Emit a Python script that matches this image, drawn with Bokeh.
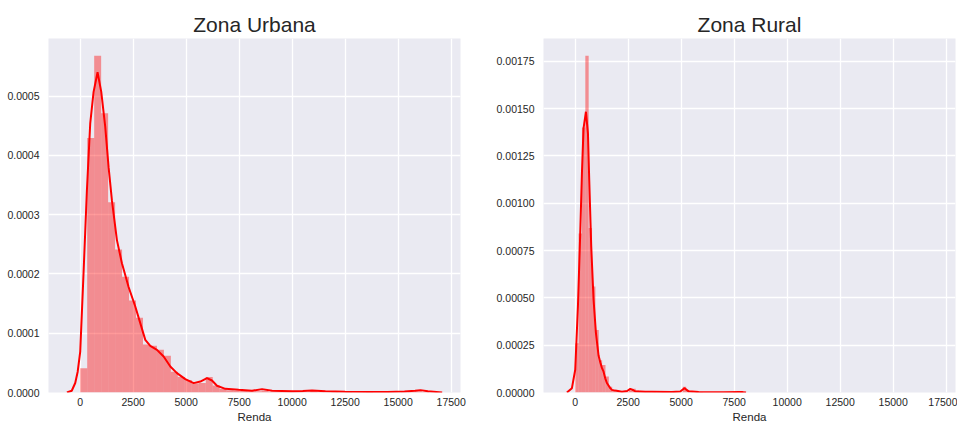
from bokeh.plotting import figure
from bokeh.layouts import row
from bokeh.models import FixedTicker, Range1d
from bokeh.embed import file_html
from bokeh.resources import INLINE

# ---------------- data ----------------
x_ticks = [0, 2500, 5000, 7500, 10000, 12500, 15000, 17500]
x_tick_labels = ["0", "2500", "5000", "7500", "10000", "12500", "15000", "17500"]

urban_y_ticks = [0.0, 0.0001, 0.0002, 0.0003, 0.0004, 0.0005]
urban_y_labels = ["0.0000", "0.0001", "0.0002", "0.0003", "0.0004", "0.0005"]
rural_y_ticks = [0.0, 0.00025, 0.0005, 0.00075, 0.001, 0.00125, 0.0015, 0.00175]
rural_y_labels = ["0.00000", "0.00025", "0.00050", "0.00075", "0.00100",
                  "0.00125", "0.00150", "0.00175"]

# histogram: 50 bins between lo and hi, densities (x 1e-4)
urban_bin_lo, urban_bin_hi = 0, 16450
urban_hist = [0.41, 4.29, 5.68, 4.71, 3.21, 2.41, 1.95, 1.55, 1.26, 0.81,
              0.79, 0.72, 0.62, 0.35, 0.26, 0.21, 0.15, 0.16, 0.26, 0.12,
              0.06, 0.04, 0.03, 0.03, 0.02, 0.02, 0.03, 0.01, 0.01, 0.02,
              0.01, 0.01, 0.005, 0.02, 0.005, 0.0, 0.005, 0.0, 0.005, 0.0,
              0.0, 0.005, 0.0, 0.0, 0.0, 0.0, 0.005, 0.01, 0.02, 0.01]

rural_bin_lo, rural_bin_hi = 0, 7930
rural_hist = [2.6, 8.4, 14.0, 17.8, 8.7, 5.6, 3.3, 1.7, 1.45, 0.85,
              0.3, 0.12, 0.05, 0.03, 0.02, 0.02, 0.1, 0.2, 0.1, 0.03,
              0.02, 0.03, 0.05, 0.02, 0.01, 0.01, 0.01, 0.01, 0.01, 0.01,
              0.01, 0.01, 0.3, 0.1, 0.01, 0.0, 0.0, 0.01, 0.0, 0.0,
              0.0, 0.0, 0.0, 0.0, 0.0, 0.0, 0.0, 0.01, 0.0, 0.05]

# KDE curves (x, density x 1e-4)
urban_kde_x = [-628, -400, -236, -120, 0, 156, 315, 472, 630, 818, 992, 1180,
               1338, 1495, 1731, 1967, 2282, 2597, 2833, 3069, 3305, 3620, 3935,
               4250, 4564, 4958, 5351, 5666, 5980, 6216, 6452, 6845, 7475, 8105,
               8577, 9050, 9522, 9994, 10500, 10938, 11567, 12500, 13500, 14500,
               15300, 15800, 16050, 16400, 17077]
urban_kde_y = [0.0, 0.03, 0.16, 0.35, 0.69, 2.01, 3.41, 4.54, 5.07, 5.40, 5.07, 4.48,
               3.80, 3.24, 2.57, 2.18, 1.78, 1.45, 1.17, 0.887, 0.786, 0.719, 0.606,
               0.438, 0.327, 0.226, 0.158, 0.185, 0.242, 0.202, 0.113, 0.062, 0.045, 0.03,
               0.057, 0.03, 0.025, 0.02, 0.025, 0.035, 0.02, 0.012, 0.01, 0.01,
               0.015, 0.03, 0.04, 0.02, 0.0]

rural_kde_x = [-392, -156, 0, 127, 236, 316, 392, 505, 600, 661, 755, 865, 977,
               1101, 1180, 1259, 1337, 1416, 1494, 1652, 1730, 1888, 2205, 2450,
               2597, 2750, 2833, 3305, 3620, 4564, 4958, 5147, 5351, 5824, 7000,
               7750, 7900, 8059]
rural_kde_y = [0.0, 0.23, 1.2, 4.54, 8.42, 11.59, 13.96, 14.84, 13.7, 11.23, 7.71,
               4.9, 3.14, 1.95, 1.6, 1.3, 1.1, 0.75, 0.5, 0.23, 0.14, 0.1, 0.04,
               0.08, 0.195, 0.12, 0.06, 0.04, 0.035, 0.02, 0.05, 0.23, 0.06, 0.02,
               0.015, 0.03, 0.02, 0.0]

x_range_lo, x_range_hi = -1497, 17941
urban_y_max = 0.000597
rural_y_max = 0.001871

# ---------------- styling ----------------
FONT = "Liberation Sans"
TXT = "#262626"
BG = "#EAEAF2"
SCALE = 1e-4


def make_panel(title, hist, lo, hi, kde_x, kde_y, y_max, y_ticks, y_labels,
               width, border_left, border_right):
    p = figure(width=width, height=425, output_backend="svg", toolbar_location=None,
               x_range=Range1d(x_range_lo, x_range_hi), y_range=Range1d(0, y_max),
               min_border_left=border_left, min_border_right=border_right,
               min_border_top=38, min_border_bottom=0)
    p.background_fill_color = BG
    p.border_fill_color = "white"
    p.outline_line_color = None

    n = len(hist)
    w = (hi - lo) / n
    lefts = [lo + i * w for i in range(n)]
    rights = [lo + (i + 1) * w for i in range(n)]
    tops = [h * SCALE for h in hist]
    p.quad(left=lefts, right=rights, bottom=0, top=tops,
           fill_color="red", fill_alpha=0.4, line_color=None)
    p.line([x for x in kde_x], [y * SCALE for y in kde_y],
           line_color="red", line_width=2)

    p.title.text = title
    p.title.align = "center"
    p.title.text_font = FONT
    p.title.text_font_size = "21px"
    p.title.text_font_style = "normal"
    p.title.text_color = TXT
    p.title.standoff = 6

    p.xaxis.ticker = FixedTicker(ticks=x_ticks)
    p.xaxis.major_label_overrides = {t: l for t, l in zip(x_ticks, x_tick_labels)}
    p.yaxis.ticker = FixedTicker(ticks=y_ticks)
    p.yaxis.major_label_overrides = {t: l for t, l in zip(y_ticks, y_labels)}
    p.xaxis.axis_label = "Renda"
    p.xaxis.axis_label_text_font = FONT
    p.xaxis.axis_label_text_font_size = "11.5px"
    p.xaxis.axis_label_text_font_style = "normal"
    p.xaxis.axis_label_text_color = TXT
    p.xaxis.axis_label_standoff = 2
    for ax in (p.xaxis, p.yaxis):
        ax.axis_line_color = None
        ax.major_tick_line_color = None
        ax.minor_tick_line_color = None
        ax.major_tick_out = 0
        ax.major_tick_in = 0
        ax.minor_tick_out = 0
        ax.minor_tick_in = 0
        ax.major_label_text_font = FONT
        ax.major_label_text_font_size = "10.5px"
        ax.major_label_text_color = TXT
    p.xaxis.major_label_standoff = 5
    p.yaxis.major_label_standoff = 9

    p.xgrid.grid_line_color = "white"
    p.ygrid.grid_line_color = "white"
    p.xgrid.grid_line_width = 1.3
    p.ygrid.grid_line_width = 1.3
    return p


p1 = make_panel("Zona Urbana", urban_hist, urban_bin_lo, urban_bin_hi,
                urban_kde_x, urban_kde_y, urban_y_max, urban_y_ticks, urban_y_labels,
                width=480, border_left=48, border_right=20)
p2 = make_panel("Zona Rural", rural_hist, rural_bin_lo, rural_bin_hi,
                rural_kde_x, rural_kde_y, rural_y_max, rural_y_ticks, rural_y_labels,
                width=477, border_left=63, border_right=2)

layout = row(p1, p2)
open("out.html", "w").write(file_html(layout, INLINE))
